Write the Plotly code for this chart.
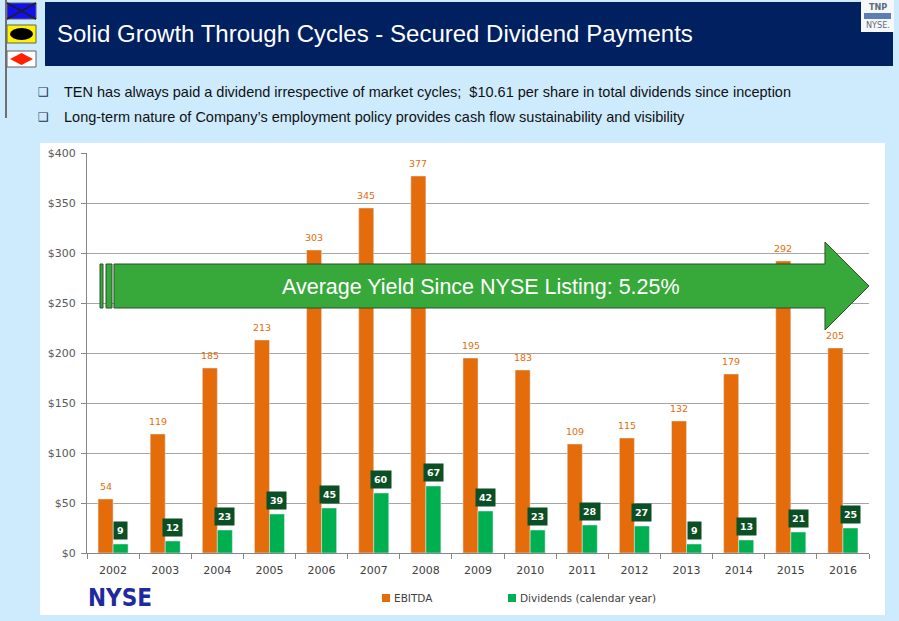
import plotly.graph_objects as go

years = ["2002", "2003", "2004", "2005", "2006", "2007", "2008", "2009",
         "2010", "2011", "2012", "2013", "2014", "2015", "2016"]
ebitda = [54, 119, 185, 213, 303, 345, 377, 195, 183, 109, 115, 132, 179, 292, 205]
dividends = [9, 12, 23, 39, 45, 60, 67, 42, 23, 28, 27, 9, 13, 21, 25]
y_ticks = [0, 50, 100, 150, 200, 250, 300, 350, 400]
y_tick_text = ["$" + str(v) for v in y_ticks]
series_names = ["EBITDA", "Dividends (calendar year)"]

title = "Solid Growth Through Cycles - Secured Dividend Payments"
bullets = [
    "TEN has always paid a dividend irrespective of market cycles;  $10.61 per share in total dividends since inception",
    "Long-term nature of Company\u2019s employment policy provides cash flow sustainability and visibility",
]
arrow_text = "Average Yield Since NYSE Listing: 5.25%"

ORANGE = "#E46C0A"
GREEN = "#00B050"
DARK_GREEN = "#0B4F24"
NAVY = "#002060"
BG = "#CDEBFD"

# plot area in pixels: x 87..869, y 153..553
L, R, T, B = 87, 869, 153, 553


def px(x):
    return (x - L) / (R - L)


def py(y):
    return (B - y) / (B - T)


def box(x0, y0, x1, y1, fill, line=None, kind="rect", layer="above"):
    return dict(type=kind, xref="paper", yref="paper", layer=layer,
                x0=px(x0), x1=px(x1), y0=py(y1), y1=py(y0), fillcolor=fill,
                line=line if line else dict(width=0))


def label(text, x, y, size, color, family="DejaVu Sans", xanchor="center"):
    return dict(text=text, xref="paper", yref="paper", x=px(x), y=py(y),
                xanchor=xanchor, yanchor="middle", showarrow=False,
                font=dict(family=family, size=size, color=color))


fig = go.Figure()
fig.add_trace(go.Bar(x=years, y=ebitda, name=series_names[0], marker_color=ORANGE))
fig.add_trace(go.Bar(x=years, y=dividends, name=series_names[1], marker_color=GREEN))

flag_line = dict(color="#606060", width=1)
shapes = [
    box(40, 143, 885, 615, "white", layer="below"),   # chart panel
    box(45, 2, 893, 66, NAVY),                          # title bar
    box(861, 0, 894, 32, "#F6F7F9"),                    # logo
    box(864, 13, 891, 19, "#5B7FB5"),
    box(7, 3, 36, 19, "#1010F0", flag_line),
    box(7, 25, 36, 43, "#FFF200", flag_line),
    box(10, 28, 33, 40, "black", kind="circle"),
    box(7, 51, 36, 67, "white", flag_line),
]
shapes.append(dict(type="line", xref="paper", yref="paper",
                   x0=px(6), x1=px(6), y0=py(118), y1=py(0),
                   line=dict(color="#707070", width=2)))
for a, b in [(3, 19), (19, 3)]:
    shapes.append(dict(type="line", xref="paper", yref="paper",
                       x0=px(7), x1=px(36), y0=py(a), y1=py(b),
                       line=dict(color="#202020", width=1.5)))
shapes.append(dict(type="path", xref="paper", yref="paper",
                   path="M {} {} L {} {} L {} {} L {} {} Z".format(
                       px(10), py(59), px(21.5), py(53), px(33), py(59), px(21.5), py(65)),
                   fillcolor="#FF2000", line_width=0))
# big arrow
arrow_line = dict(color="#2F4F2F", width=1)
shapes.append(box(100, 264, 103, 308, "#37A93A", arrow_line))
shapes.append(box(106, 264, 112, 308, "#37A93A", arrow_line))
pts = [(114, 264), (825, 264), (825, 242), (869, 286), (825, 330), (825, 308), (114, 308)]
path = "M " + " L ".join("{:.4f} {:.4f}".format(px(a), py(b)) for a, b in pts) + " Z"
shapes.append(dict(type="path", xref="paper", yref="paper", path=path,
                   fillcolor="#37A93A", line=arrow_line))
# legend swatches
shapes.append(box(382, 594, 390, 602, ORANGE))
shapes.append(box(508, 594, 516, 602, GREEN))

annotations = [
    label(title, 55, 34, 24, "white", "Liberation Sans, Arial", "left"),
    label("<b>TNP</b>", 877.5, 7, 9, "#5A6B80", "DejaVu Sans Condensed, DejaVu Sans"),
    label("NYSE.", 877.5, 25, 9, "#5A6B80", "DejaVu Sans Condensed, DejaVu Sans"),
    label("<b>NYSE</b>", 86, 598, 24, "#1F2AA0", "DejaVu Sans Condensed, DejaVu Sans", "left"),
    label(arrow_text, 481, 287, 21.5, "white", "Liberation Sans, Arial"),
    label(series_names[0], 392, 598, 10.5, "#404040", xanchor="left"),
    label(series_names[1], 518, 598, 10.5, "#404040", xanchor="left"),
]
for i, b in enumerate(bullets):
    yy = 92 + i * 25
    annotations.append(label("\u2751", 43, yy, 12, "#1F2F5F"))
    annotations.append(label(b, 62, yy, 14.5, "#111111", "Liberation Sans, Arial", "left"))
# data labels (x given as category index)
for i, v in enumerate(ebitda):
    annotations.append(dict(x=i, y=v, text=str(v), showarrow=False, xshift=-7.5, yshift=13,
                            font=dict(family="DejaVu Sans", size=9.5, color=ORANGE)))
for i, v in enumerate(dividends):
    annotations.append(dict(x=i, y=v, text="<b>%d</b>" % v, showarrow=False, xshift=7.5, yshift=14,
                            bgcolor=DARK_GREEN, borderpad=3,
                            font=dict(family="DejaVu Sans", size=9.5, color="white")))

fig.update_layout(
    width=899, height=621,
    margin=dict(l=L, r=899 - R, t=T, b=621 - B),
    paper_bgcolor=BG, plot_bgcolor="white",
    barmode="group", bargap=0.424, bargroupgap=0,
    showlegend=False,
    shapes=shapes, annotations=annotations,
    font=dict(family="DejaVu Sans"),
)
fig.update_xaxes(type="category", range=[-0.5, len(years) - 0.5], showline=True,
                 linecolor="#868686", ticks="outside", automargin=False,
                 tickson="boundaries", ticklen=5, tickcolor="#868686", ticklabelstandoff=7,
                 tickfont=dict(family="DejaVu Sans", size=11, color="#404040"))
fig.update_yaxes(range=[0, 400], tickvals=y_ticks, ticktext=y_tick_text, showline=True,
                 linecolor="#868686", ticks="outside", ticklen=5, tickcolor="#868686",
                 gridcolor="#A6A6A6", zeroline=False, automargin=False, ticklabelstandoff=3,
                 tickfont=dict(family="DejaVu Sans", size=11, color="#595959"))

# drop the page's default body margin so the figure sits at the window's corner
fig.write_html("out.html", config={"displayModeBar": False},
               post_script="document.body.style.margin='0';")
